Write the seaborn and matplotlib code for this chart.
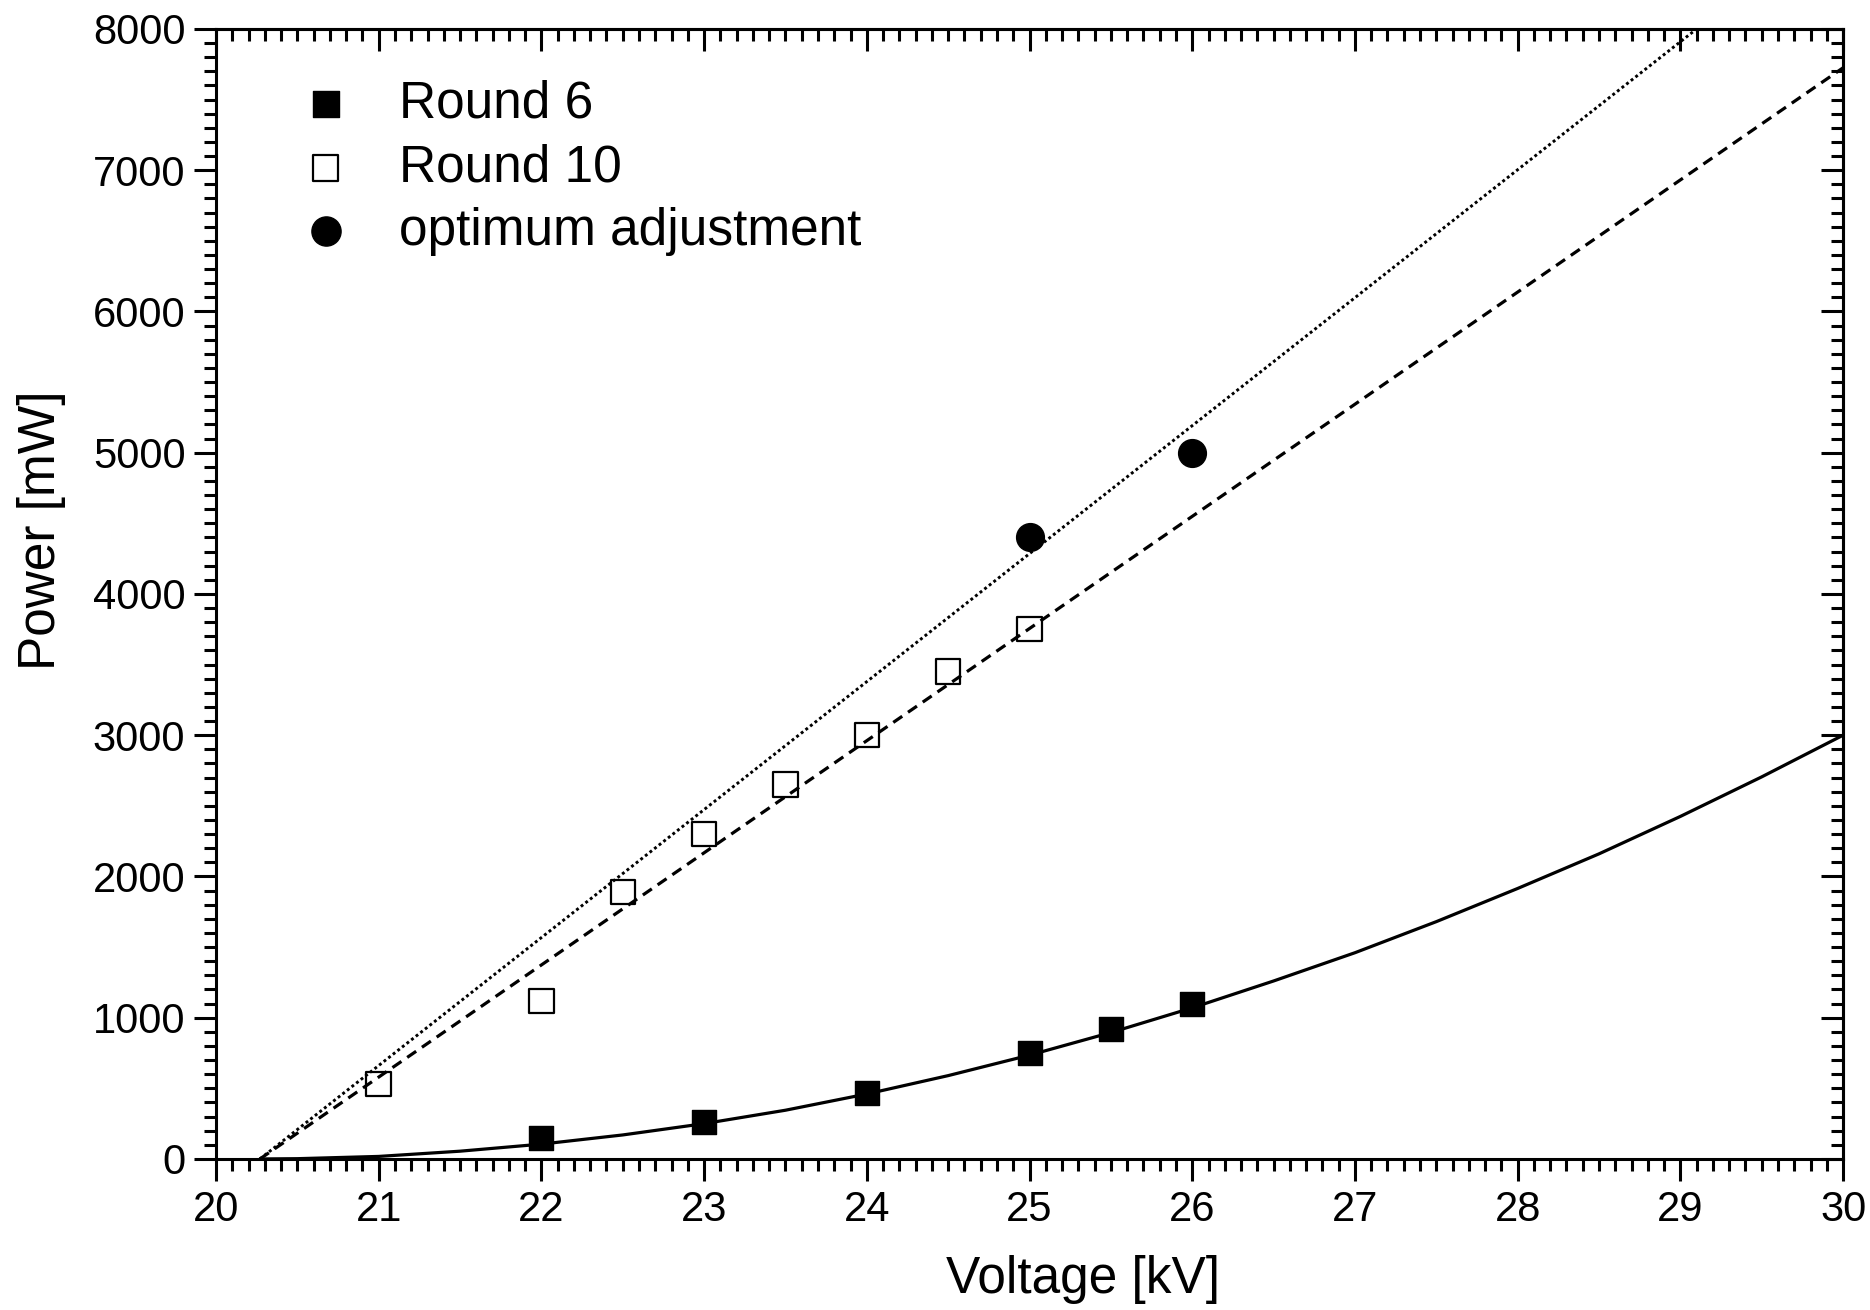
import numpy as np
import pandas as pd
import matplotlib
matplotlib.use("Agg")
import matplotlib.pyplot as plt
from matplotlib.ticker import MultipleLocator
import seaborn as sns

# ---- data ----
r6_x = [22, 23, 24, 25, 25.5, 26]
r6_y = [150, 260, 470, 750, 920, 1100]

r10_x = [21, 22, 22.5, 23, 23.5, 24, 24.5, 25]
r10_y = [530, 1120, 1890, 2300, 2650, 3000, 3450, 3750]

opt_x = [25, 26]
opt_y = [4400, 5000]

# fitted curves
fit6_x = [20.27, 20.5, 21, 21.5, 22, 22.5, 23, 23.5, 24, 24.5, 25, 25.5, 26,
          26.5, 27, 27.5, 28, 28.5, 29, 29.5, 30]
fit6_y = [0, 2, 18, 55, 105, 170, 250, 345, 460, 590, 735, 895, 1070,
          1260, 1460, 1680, 1915, 2160, 2425, 2705, 3000]

fit10_x = [20.27, 30]
fit10_y = [0, 7725]

fitopt_x = [20.27, 29.1]
fitopt_y = [0, 8000]

x_ticks = [20, 21, 22, 23, 24, 25, 26, 27, 28, 29, 30]
y_ticks = [0, 1000, 2000, 3000, 4000, 5000, 6000, 7000, 8000]

# ---- styling ----
sns.set_style("ticks")
plt.rcParams['font.family'] = ['Liberation Sans', 'DejaVu Sans']
plt.rcParams['text.color'] = 'black'
plt.rcParams['axes.labelcolor'] = 'black'
plt.rcParams['xtick.color'] = 'black'
plt.rcParams['ytick.color'] = 'black'

fig = plt.figure(figsize=(18.7, 13.1), dpi=100)
ax = fig.add_axes([0.1155, 0.1153, 0.9856 - 0.1155, 0.9779 - 0.1153])

lw_line = 2.3
sns.lineplot(x=fit6_x, y=fit6_y, ax=ax, color='black', lw=lw_line,
             linestyle='-', legend=False, sort=False)
sns.lineplot(x=fit10_x, y=fit10_y, ax=ax, color='black', lw=lw_line,
             legend=False, sort=False).lines[-1].set_dashes((3.4, 2.2))
sns.lineplot(x=fitopt_x, y=fitopt_y, ax=ax, color='black', lw=2.1,
             legend=False, sort=False).lines[-1].set_dashes((1.0, 1.0))

ms = 310
sns.scatterplot(x=r6_x, y=r6_y, ax=ax, marker='s', s=ms, color='black',
                edgecolor='black', linewidth=1, label='Round 6', zorder=5)
sns.scatterplot(x=r10_x, y=r10_y, ax=ax, marker='s', s=ms, facecolor='none',
                edgecolor='black', linewidth=1.6, label='Round 10', zorder=5)
sns.scatterplot(x=opt_x, y=opt_y, ax=ax, marker='o', s=400, color='black',
                edgecolor='black', linewidth=1, label='optimum adjustment', zorder=5)

ax.set_xlim(20, 30)
ax.set_ylim(0, 8000)
ax.set_xticks(x_ticks)
ax.set_yticks(y_ticks)
ax.xaxis.set_minor_locator(MultipleLocator(0.1))
ax.yaxis.set_minor_locator(MultipleLocator(100))

for s in ax.spines.values():
    s.set_visible(True)
    s.set_linewidth(2.2)
    s.set_color('black')

ax.tick_params(axis='both', which='major', direction='out', length=16, width=2.2,
               labelsize=30, pad=6, top=False, right=False)
ax.tick_params(axis='both', which='minor', direction='out', length=8.5, width=2.2,
               top=False, right=False)

# mirrored inward ticks on top and right
secx = ax.secondary_xaxis('top')
secx.set_xticks(x_ticks)
secx.xaxis.set_minor_locator(MultipleLocator(0.1))
secx.tick_params(which='major', direction='in', length=16, width=2.2, labeltop=False)
secx.tick_params(which='minor', direction='in', length=8.5, width=2.2)
secx.spines['top'].set_linewidth(2.2)
secy = ax.secondary_yaxis('right')
secy.set_yticks(y_ticks)
secy.yaxis.set_minor_locator(MultipleLocator(100))
secy.tick_params(which='major', direction='in', length=16, width=2.2, labelright=False)
secy.tick_params(which='minor', direction='in', length=8.5, width=2.2)
secy.spines['right'].set_linewidth(2.2)

ax.set_xlabel('Voltage [kV]', fontsize=37)
ax.set_ylabel('Power [mW]', fontsize=37)
ax.xaxis.set_label_coords(0.533, -0.085)
ax.yaxis.set_label_coords(-0.092, 0.556)

leg = ax.legend(loc='upper left', bbox_to_anchor=(0.0547, 0.955), frameon=False,
                fontsize=37, handlelength=0.8, handletextpad=1.03,
                labelspacing=0.28, markerscale=1.05, borderaxespad=0, borderpad=0)

fig.savefig('out.png', dpi=100)
